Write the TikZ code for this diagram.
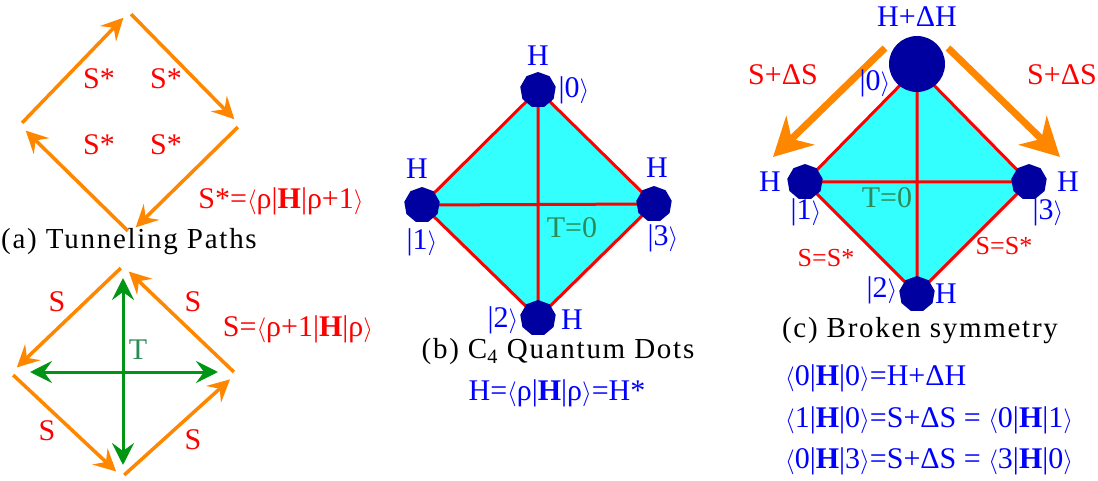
\documentclass[tikz,border=0pt]{standalone}
\usepackage{fontspec}
\setmainfont{LiberationSerif}[Extension=.ttf,UprightFont=*-Regular,BoldFont=*-Bold,ItalicFont=*-Italic]
\usetikzlibrary{arrows.meta,shapes.geometric}
\definecolor{dotblue}{RGB}{0,0,160}
\definecolor{pathorange}{RGB}{255,135,0}
\definecolor{tgreen}{RGB}{0,150,20}
\definecolor{tlabel}{RGB}{46,139,87}
\definecolor{qcyan}{RGB}{51,255,255}
\tikzset{
  lbl/.style={font=\fontsize{30}{32}\selectfont,inner sep=0pt},
  slbl/.style={lbl,text=red},
  hlbl/.style={lbl,text=blue},
  capt/.style={font=\fontsize{29}{32}\selectfont\addfontfeature{LetterSpace=6},inner sep=0pt,text=black},
  hop/.style={pathorange,line width=3.5pt,->,shorten <=3pt,shorten >=8pt},
  tun/.style={tgreen,line width=3pt,<->},
  bond/.style={red,line width=3pt},
  qdot/.style={regular polygon,regular polygon sides=9,fill=dotblue,minimum size=36pt,inner sep=0pt},
}
\newcommand{\bra}{$\langle$}
\newcommand{\ket}{$\rangle$}
\begin{document}
\begin{tikzpicture}[x=1pt,y=-1pt,>={Stealth[length=22pt,width=22pt,inset=8pt]}]
\useasboundingbox (0,0) rectangle (1098,481);
% (a) tunneling paths
\begin{scope}
\coordinate (t1) at (20,125);
\coordinate (t2) at (129,12);
\coordinate (t3) at (240,125);
\coordinate (t4) at (130,233);
\draw[hop](t1)--(t2);
\draw[hop](t2)--(t3);
\draw[hop](t3)--(t4);
\draw[hop](t4)--(t1);
\node[slbl] (sa) at (99,79) {S*};
\node[slbl] (sb) at (166,79) {S*};
\node[slbl] (sc) at (99,145) {S*};
\node[slbl] (sd) at (166,145) {S*};
\node[slbl] (sdef) at (281,201) {S*=\bra ρ|\textbf{H}|ρ+1\ket};
\node[capt] (capa) at (129,242) {(a) Tunneling Paths};

\coordinate (u1) at (123,266);
\coordinate (u2) at (11,373);
\coordinate (u3) at (122,477);
\coordinate (u4) at (236,374);
\draw[hop](u1)--(u2);
\draw[hop](u2)--(u3);
\draw[hop](u3)--(u4);
\draw[hop](u4)--(u1);
\coordinate (tu) at (123,278);
\coordinate (td) at (123,465);
\coordinate (tl) at (30,372);
\coordinate (tr) at (218,372);
\draw[tun](tu)--(td);
\draw[tun](tl)--(tr);
\node[lbl,text=tlabel] (tt) at (138,350) {T};
\node[slbl] (se) at (57,302) {S};
\node[slbl] (sf) at (193,302) {S};
\node[slbl] (sg) at (47,431) {S};
\node[slbl] (sh) at (193,440) {S};
\node[slbl] (sdef2) at (298,329) {S=\bra ρ+1|\textbf{H}|ρ\ket};
\end{scope}
% (b) C4 quantum dots
\begin{scope}
\coordinate (p0) at (538,90);
\coordinate (p1) at (422,205);
\coordinate (p2) at (538,318);
\coordinate (p3) at (654,204);
\fill[qcyan](p0)--(p1)--(p2)--(p3)--cycle;
\draw[bond](p0)--(p1)--(p2)--(p3)--cycle (p0)--(p2) (p1)--(p3);
\node[qdot] (b0) at (p0) {};
\node[qdot] (b1) at (p1) {};
\node[qdot] (b2) at (p2) {};
\node[qdot] (b3) at (p3) {};
\node[hlbl] (hb0) at (538,56) {H};
\node[hlbl] (kb0) at (574,90) {|0\ket};
\node[hlbl] (hb1) at (417,169) {H};
\node[hlbl] (kb1) at (422,242) {|1\ket};
\node[hlbl] (hb3) at (657,168) {H};
\node[hlbl] (kb3) at (663,238) {|3\ket};
\node[hlbl] (kb2) at (503,320) {|2\ket};
\node[hlbl] (hb2) at (572,320) {H};
\node[lbl,text=tlabel] (tb) at (572,228) {T=0};
\node[capt] (capb) at (558,352) {(b) C\textsubscript{4} Quantum Dots};
\node[hlbl] (hdef) at (557,393) {H=\bra ρ|\textbf{H}|ρ\ket=H*};
\end{scope}
% (c) broken symmetry
\begin{scope}
\coordinate (q0) at (917,68);
\coordinate (q1) at (805,182);
\coordinate (q2) at (917,294);
\coordinate (q3) at (1029,182);
\fill[qcyan](q0)--(q1)--(q2)--(q3)--cycle;
\draw[bond](q0)--(q1)--(q2)--(q3)--cycle (q0)--(q2) (q1)--(q3);
\node[circle,fill=dotblue,minimum size=56pt,inner sep=0pt] (c0) at (917,64) {};
\node[qdot] (c1) at (q1) {};
\node[qdot] (c2) at (q2) {};
\node[qdot] (c3) at (q3) {};
\coordinate (cl1) at (885,48);
\coordinate (cl2) at (773,157);
\coordinate (cr1) at (948,48);
\coordinate (cr2) at (1060,157);
\draw[pathorange,line width=7pt,-{Stealth[length=38pt,width=40pt,inset=12pt]}](cl1)--(cl2);
\draw[pathorange,line width=7pt,-{Stealth[length=38pt,width=40pt,inset=12pt]}](cr1)--(cr2);
\node[hlbl] (hc0) at (917,17) {H+ΔH};
\node[slbl] (sl) at (783,75) {S+ΔS};
\node[slbl] (sr) at (1062,75) {S+ΔS};
\node[hlbl] (kc0) at (875,83) {|0\ket};
\node[hlbl] (hc1) at (770,182) {H};
\node[hlbl] (kc1) at (806,212) {|1\ket};
\node[hlbl] (hc3) at (1068,182) {H};
\node[hlbl] (kc3) at (1048,212) {|3\ket};
\node[hlbl] (kc2) at (882,290) {|2\ket};
\node[hlbl] (hc2) at (946,294) {H};
\node[lbl,text=tlabel] (tc) at (887,198) {T=0};
\node[slbl,font=\fontsize{26}{28}\selectfont] (ssl) at (826,258) {S=S*};
\node[slbl,font=\fontsize{26}{28}\selectfont] (ssr) at (1004,246) {S=S*};
\node[capt] (capc) at (920,331) {(c) Broken symmetry};
\node[hlbl,anchor=west] (e1) at (785,378) {\bra 0|\textbf{H}|0\ket=H+ΔH};
\node[hlbl,anchor=west] (e2) at (785,420) {\bra 1|\textbf{H}|0\ket=S+ΔS = \bra 0|\textbf{H}|1\ket};
\node[hlbl,anchor=west] (e3) at (785,461) {\bra 0|\textbf{H}|3\ket=S+ΔS = \bra 3|\textbf{H}|0\ket};
\end{scope}
\end{tikzpicture}
\end{document}
